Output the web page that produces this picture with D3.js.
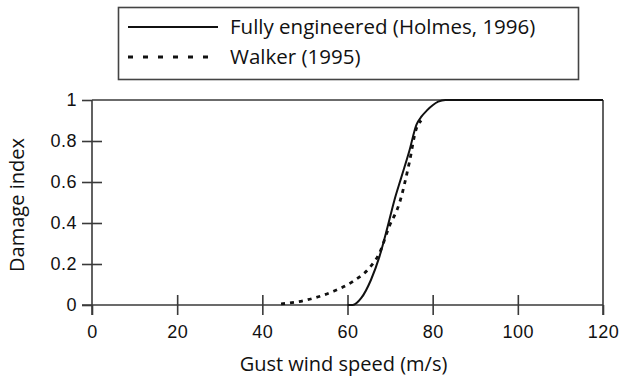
<!DOCTYPE html>
<html>
<head>
<meta charset="utf-8">
<script src="https://cdn.jsdelivr.net/npm/d3@7"></script>
<style>
  body { margin: 0; background: #fff; }
  svg { display: block; font-family: 'Open Sans', 'Lato', sans-serif; }
</style>
</head>
<body>
<svg id="chart" width="623" height="379"></svg>
<script>
// gust wind speed (m/s) vs damage index
const holmesSpeed = [60, 61.2, 63.2, 65.5, 67.5, 69.4, 71.0, 72.6, 74.5, 76.2, 77.4, 78.6, 81.3, 83, 120];
const holmesDamage = [0, 0, 0.033, 0.122, 0.236, 0.38, 0.51, 0.62, 0.75, 0.88, 0.92, 0.948, 0.992, 1, 1];

const walkerSpeed = [44.4, 50.3, 56.5, 61.2, 65.1, 67.5, 69.8, 72.2, 74.5, 76.1, 77.3];
const walkerDamage = [0.005, 0.024, 0.065, 0.114, 0.18, 0.253, 0.383, 0.497, 0.693, 0.856, 0.9];

const xTicks = [0, 20, 40, 60, 80, 100, 120];
const yTicks = [0, 0.2, 0.4, 0.6, 0.8, 1];
const yTickLabels = ['0', '0.2', '0.4', '0.6', '0.8', '1'];

const legendLabels = ['Fully engineered (Holmes, 1996)', 'Walker (1995)'];

const svg = d3.select('#chart');
const margin = { top: 100, right: 20, bottom: 74, left: 92 };
const width = 623 - margin.left - margin.right;
const height = 379 - margin.top - margin.bottom;

const g = svg.append('g').attr('transform', `translate(${margin.left},${margin.top})`);

const x = d3.scaleLinear().domain([0, 120]).range([0, width]);
const y = d3.scaleLinear().domain([0, 1]).range([height, 0]);

const axisColour = '#3a3a3a';
const textColour = '#111';
const tick = 10;

// frame: top and right edges
g.append('line')
	.attr('x1', 0).attr('x2', width)
	.attr('y1', 0).attr('y2', 0)
	.attr('stroke', axisColour).attr('stroke-width', 1.6);
g.append('line')
	.attr('x1', width).attr('x2', width)
	.attr('y1', 0).attr('y2', height + tick)
	.attr('stroke', axisColour).attr('stroke-width', 1.6);

const xAxis = g.append('g')
	.attr('transform', `translate(0,${height})`)
	.call(d3.axisBottom(x).tickValues(xTicks).tickSize(tick).tickSizeOuter(0).tickPadding(10));

xAxis.selectAll('.tick line').attr('y1', d => (d === 0 || d === 120) ? 0 : -tick);

const yAxis = g.append('g')
	.call(d3.axisLeft(y).tickValues(yTicks).tickSize(tick).tickSizeOuter(0).tickPadding(5)
		.tickFormat((d, i) => yTickLabels[i]));

yAxis.selectAll('.tick line').attr('x1', d => (d === 0 || d === 1) ? 0 : tick);

// extend axis lines past the origin like the original
yAxis.select('.domain').attr('d', `M0,0V${height + tick}`);
xAxis.select('.domain').attr('d', `M${-tick},0H${width}`);

[xAxis, yAxis].forEach(ax => {
	ax.selectAll('.domain, .tick line').attr('stroke', axisColour).attr('stroke-width', 1.6);
	ax.selectAll('text')
		.attr('fill', textColour)
		.style('font-size', '18px')
		.style('letter-spacing', '0.5px');
});

const line = d3.line()
	.x(d => x(d[0]))
	.y(d => y(d[1]))
	.curve(d3.curveMonotoneX);

g.append('path')
	.datum(holmesSpeed.map((s, i) => [s, holmesDamage[i]]))
	.attr('d', line)
	.attr('fill', 'none')
	.attr('stroke', '#111')
	.attr('stroke-width', 2);

g.append('path')
	.datum(walkerSpeed.map((s, i) => [s, walkerDamage[i]]))
	.attr('d', line)
	.attr('fill', 'none')
	.attr('stroke', '#111')
	.attr('stroke-width', 2.8)
	.attr('stroke-dasharray', '4,5');

// axis titles
svg.append('text')
	.attr('x', margin.left + x(60) - 4)
	.attr('y', 371)
	.attr('text-anchor', 'middle')
	.attr('fill', textColour)
	.style('font-size', '20px')
	.text('Gust wind speed (m/s)');

svg.append('text')
	.attr('transform', 'translate(24,205) rotate(-90)')
	.attr('text-anchor', 'middle')
	.attr('fill', textColour)
	.style('font-size', '20px')
	.text('Damage index');

// legend
const legend = svg.append('g');
legend.append('rect')
	.attr('x', 118.5).attr('y', 7.5)
	.attr('width', 460).attr('height', 72)
	.attr('fill', '#fff')
	.attr('stroke', '#444')
	.attr('stroke-width', 1.6);

const legendRows = legend.selectAll('.row')
	.data(legendLabels)
	.enter().append('g')
	.attr('class', 'row')
	.attr('transform', (d, i) => `translate(0,${27 + i * 30})`);

legendRows.append('line')
	.attr('x1', 128).attr('x2', 218)
	.attr('stroke', '#111')
	.attr('stroke-width', (d, i) => i === 0 ? 2 : 2.8)
	.attr('stroke-dasharray', (d, i) => i === 0 ? null : '5,10');

legendRows.append('text')
	.attr('x', 230)
	.attr('y', 7)
	.attr('fill', textColour)
	.style('font-size', '20.5px')
	.text(d => d);
</script>
</body>
</html>
